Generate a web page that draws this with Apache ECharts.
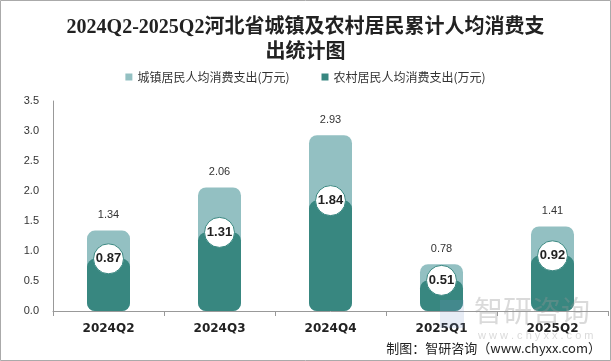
<!DOCTYPE html>
<html><head><meta charset="utf-8">
<script src="https://cdn.jsdelivr.net/npm/echarts@6/dist/echarts.min.js"></script>
<style>html,body{margin:0;padding:0;background:#fff}#c{width:611px;height:361px}</style>
</head><body><div id="c"></div>
<script>
const categories = ['2024Q2','2024Q3','2024Q4','2025Q1','2025Q2'];
const urban = [1.34, 2.06, 2.93, 0.78, 1.41];
const rural = [0.87, 1.31, 1.84, 0.51, 0.92];
const yTicks = {min: 0, max: 3.5, interval: 0.5};
const seriesNames = ['城镇居民人均消费支出(万元)', '农村居民人均消费支出(万元)'];

const chart = echarts.init(document.getElementById('c'));
chart.setOption({
  animation: false,
  title: {
    text: '2024Q2-2025Q2河北省城镇及农村居民累计人均消费支\n出统计图',
    left: 'center', top: 10,
    textStyle: {fontFamily: '"Liberation Serif","Noto Sans CJK SC",serif', fontWeight: 'bold', fontSize: 20, color: '#222', lineHeight: 25}
  },
  legend: {
    top: 66, left: 'center', itemWidth: 7, itemHeight: 7, itemGap: 32,
    icon: 'rect',
    textStyle: {fontSize: 12, color: '#333', fontFamily: '"Noto Sans CJK SC",sans-serif'},
    data: seriesNames
  },
  grid: {left: 53, right: 3, top: 101, bottom: 50},
  xAxis: {
    type: 'category', data: categories,
    axisLine: {lineStyle: {color: '#999'}},
    axisTick: {show: true, lineStyle: {color: '#999'}},
    axisLabel: {fontWeight: 'bold', fontSize: 12, color: '#222', margin: 12, fontFamily: '"DejaVu Sans",sans-serif'}
  },
  yAxis: {
    type: 'value', min: yTicks.min, max: yTicks.max, interval: yTicks.interval,
    axisLine: {show: true, lineStyle: {color: '#999'}},
    splitLine: {show: false},
    axisLabel: {fontSize: 11, color: '#333', margin: 14, formatter: v => v.toFixed(1)}
  },
  series: [
    {
      name: seriesNames[0], type: 'bar', data: urban, barWidth: 43, barGap: '-100%',
      itemStyle: {color: '#93c0c2', borderRadius: 8},
      label: {show: true, position: 'top', distance: 10, fontSize: 11, color: '#333', formatter: p => p.value.toFixed(2)}
    },
    {
      name: seriesNames[1], type: 'bar', data: rural, barWidth: 43,
      itemStyle: {color: '#388780', borderRadius: 8}
    },
    {
      name: 'circ', type: 'scatter', data: rural, symbolSize: 30, z: 5,
      itemStyle: {color: '#ffffff', opacity: 1, borderColor: '#388780', borderWidth: 1},
      label: {show: true, position: 'inside', fontWeight: 'bold', fontSize: 13, color: '#222', formatter: p => p.value.toFixed(2)},
      tooltip: {show: false}
    }
  ],
  graphic: [
    {type: 'rect', shape: {x: 0.5, y: 0.5, width: 610, height: 360}, style: {fill: 'none', stroke: '#aaa', lineWidth: 1}, z: 100},
    {type: 'text', left: 474, top: 296, style: {text: '智研咨询', fontSize: 29, fill: 'rgba(150,150,150,0.35)', fontFamily: '"Noto Sans CJK SC",sans-serif'}, z: 50},
    {type: 'text', left: 478, top: 330, style: {text: 'w w w . c h y x x . c o m', fontSize: 11, fill: 'rgba(150,150,150,0.35)'}, z: 50},
    {type: 'rect', shape: {x: 440, y: 300, width: 24, height: 28}, style: {fill: 'rgba(120,150,200,0.18)'}, z: 50},
    {type: 'text', right: 10, top: 342, style: {text: '制图：智研咨询（www.chyxx.com）', fontSize: 13, fill: '#222', fontFamily: '"Noto Sans CJK SC",sans-serif'}, z: 60}
  ]
});
</script></body></html>
